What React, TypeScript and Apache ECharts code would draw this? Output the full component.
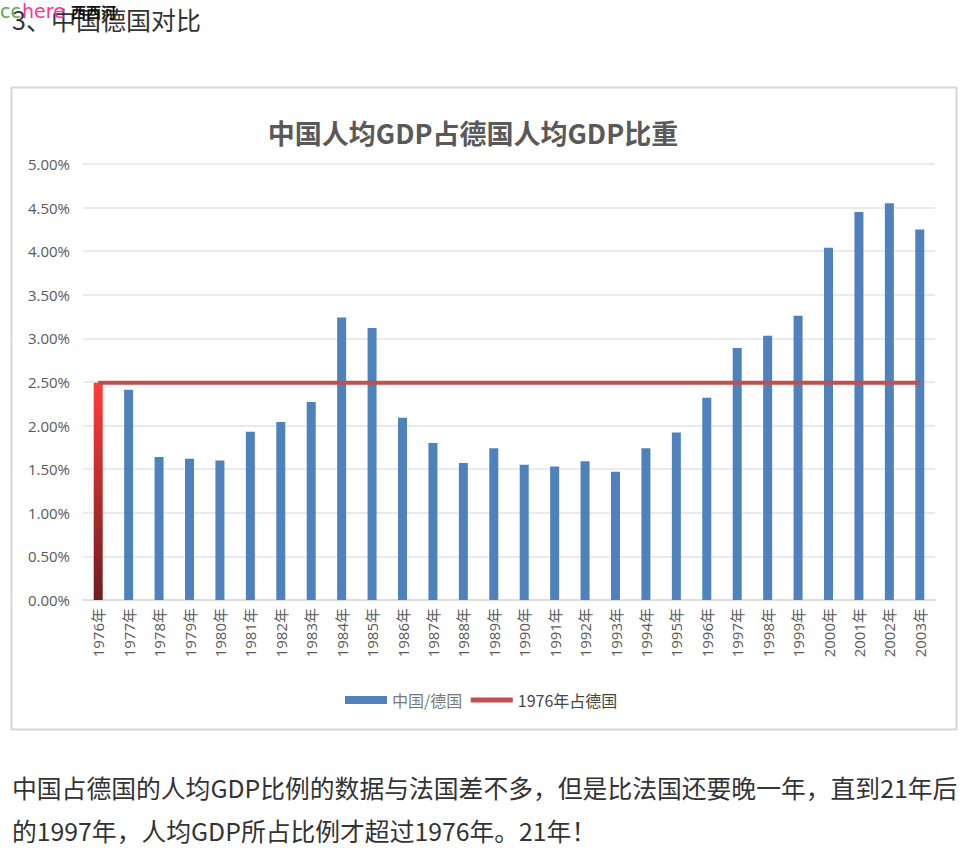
import React, { useEffect, useRef } from "react";
import * as echarts from "echarts";

const categories = [
  "1976年", "1977年", "1978年", "1979年", "1980年", "1981年", "1982年",
  "1983年", "1984年", "1985年", "1986年", "1987年", "1988年", "1989年",
  "1990年", "1991年", "1992年", "1993年", "1994年", "1995年", "1996年",
  "1997年", "1998年", "1999年", "2000年", "2001年", "2002年", "2003年",
];

// 中国人均GDP / 德国人均GDP (%)
const chinaShare = [
  2.49, 2.41, 1.64, 1.62, 1.60, 1.93, 2.04, 2.27, 3.24, 3.12, 2.09, 1.80,
  1.57, 1.74, 1.55, 1.53, 1.59, 1.47, 1.74, 1.92, 2.32, 2.89, 3.03, 3.26,
  4.04, 4.45, 4.55, 4.25,
];

// 1976年占德国 (%)
const share1976 = [
  2.49, 2.49, 2.49, 2.49, 2.49, 2.49, 2.49, 2.49, 2.49, 2.49, 2.49, 2.49,
  2.49, 2.49, 2.49, 2.49, 2.49, 2.49, 2.49, 2.49, 2.49, 2.49, 2.49, 2.49,
  2.49, 2.49, 2.49, 2.49,
];

const yTicks = { min: 0, max: 5, interval: 0.5 };

const chartTitle = "中国人均GDP占德国人均GDP比重";
const heading = "3、中国德国对比";
const para1 = "中国占德国的人均GDP比例的数据与法国差不多，但是比法国还要晚一年，直到21年后";
const para2 = "的1997年，人均GDP所占比例才超过1976年。21年！";

const CJK = "'Noto Sans CJK SC', 'Noto Sans', sans-serif";
const NUM = "'Open Sans', 'Noto Sans CJK SC', sans-serif";

export default function App() {
  const ref = useRef<HTMLDivElement>(null);
  useEffect(() => {
    if (!ref.current) return;
    const chart = echarts.init(ref.current, null, { renderer: "svg" });
    const barData = chinaShare.map((v, i) =>
      i === 0
        ? {
            value: v,
            itemStyle: {
              color: new echarts.graphic.LinearGradient(0, 0, 0, 1, [
                { offset: 0, color: "#ff3c3c" },
                { offset: 1, color: "#6e1e1e" },
              ]),
            },
          }
        : v
    );
    chart.setOption({
      animation: false,
      backgroundColor: "#ffffff",
      title: {
        text: chartTitle,
        left: 468,
        textAlign: "center",
        top: 114,
        textStyle: { fontFamily: CJK, fontSize: 27, fontWeight: "bold", color: "#595959" },
      },
      grid: { left: 83, right: 35, top: 164, bottom: 261, containLabel: false },
      legend: {
        data: [
          { name: "中国/德国", icon: "rect" },
          {
            name: "1976年占德国",
            itemStyle: { opacity: 0 },
            lineStyle: { width: 5, color: "#c0504d" },
            textStyle: { color: "#454545" },
          },
        ],
        left: 340,
        top: 687,
        itemWidth: 42,
        itemHeight: 8,
        itemGap: 6,
        textStyle: { fontFamily: CJK, fontSize: 16, color: "#7a7a7a" },
      },
      xAxis: {
        type: "category",
        data: categories,
        axisLine: { lineStyle: { color: "#d9d9d9", width: 1.5 } },
        axisTick: { show: false },
        axisLabel: {
          rotate: 90,
          margin: 8,
          fontFamily: NUM,
          fontSize: 15,
          color: "#595959",
          interval: 0,
        },
      },
      yAxis: {
        type: "value",
        min: yTicks.min,
        max: yTicks.max,
        interval: yTicks.interval,
        axisLine: { show: false },
        axisTick: { show: false },
        splitLine: { lineStyle: { color: "#e3e3e3", width: 1.5 } },
        axisLabel: {
          margin: 13,
          fontFamily: NUM,
          fontSize: 15,
          color: "#595959",
          formatter: (v: number) => v.toFixed(2) + "%",
        },
      },
      series: [
        {
          name: "中国/德国",
          type: "bar",
          data: barData,
          barWidth: 9,
          itemStyle: { color: "#4f81bd" },
        },
        {
          name: "1976年占德国",
          type: "line",
          data: share1976,
          symbol: "none",
          lineStyle: { color: "#c0504d", width: 4 },
          itemStyle: { color: "#c0504d" },
          z: 3,
        },
      ],
      graphic: [
        {
          type: "rect",
          shape: { x: 11.5, y: 87.5, width: 945, height: 642 },
          style: { fill: "none", stroke: "#d6d6d6", lineWidth: 2 },
          silent: true,
          z: -1,
        },
        {
          type: "text",
          x: 12,
          y: 19,
          style: {
            text: heading,
            fontFamily: CJK,
            fontSize: 25,
            fill: "#333333",
            verticalAlign: "middle",
          },
        },
        {
          type: "text",
          x: 0,
          y: 11,
          style: {
            text: "cc",
            fontFamily: "'DejaVu Sans', sans-serif",
            fontSize: 19,
            fill: "#4caf50",
            verticalAlign: "middle",
          },
        },
        {
          type: "text",
          x: 22,
          y: 11,
          style: {
            text: "here",
            fontFamily: "'DejaVu Sans', sans-serif",
            fontSize: 19,
            fill: "#ff3399",
            verticalAlign: "middle",
          },
        },
        {
          type: "text",
          x: 71,
          y: 11,
          style: {
            text: "西西河",
            fontFamily: CJK,
            fontSize: 15,
            fontWeight: "bold",
            fill: "#111111",
            verticalAlign: "middle",
          },
        },
        {
          type: "text",
          x: 12,
          y: 787,
          style: {
            text: para1,
            fontFamily: CJK,
            fontSize: 24.8,
            fill: "#333333",
            verticalAlign: "middle",
          },
        },
        {
          type: "text",
          x: 12,
          y: 830,
          style: {
            text: para2,
            fontFamily: CJK,
            fontSize: 24.8,
            fill: "#333333",
            verticalAlign: "middle",
          },
        },
      ],
    });
    return () => chart.dispose();
  }, []);
  return (
    <div
      ref={ref}
      style={{ position: "absolute", left: 0, top: 0, width: 970, height: 861 }}
    />
  );
}
